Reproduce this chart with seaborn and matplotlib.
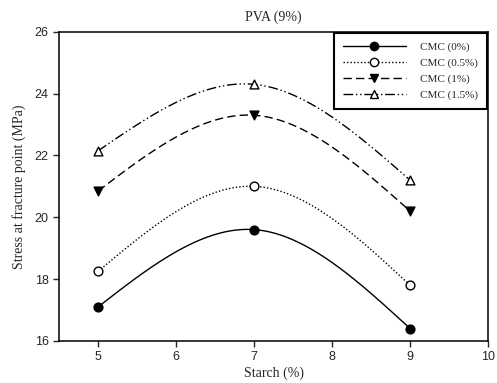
import numpy as np
import pandas as pd
import seaborn as sns
import matplotlib
matplotlib.use("Agg")
import matplotlib.pyplot as plt
from matplotlib.lines import Line2D

sns.set_style("ticks")

starch = [5, 7, 9]
cmc_0 = [17.1, 19.6, 16.4]
cmc_05 = [18.25, 21.0, 17.8]
cmc_1 = [20.85, 23.3, 20.2]
cmc_15 = [22.15, 24.3, 21.2]
labels = ["CMC (0%)", "CMC (0.5%)", "CMC (1%)", "CMC (1.5%)"]


def natural_spline(x, y, n=200):
    # natural cubic spline through the points (curve rendering only)
    x = np.asarray(x, float)
    y = np.asarray(y, float)
    k = len(x)
    h = np.diff(x)
    A = np.zeros((k, k))
    b = np.zeros(k)
    A[0, 0] = A[-1, -1] = 1
    for i in range(1, k - 1):
        A[i, i - 1] = h[i - 1]
        A[i, i] = 2 * (h[i - 1] + h[i])
        A[i, i + 1] = h[i]
        b[i] = 6 * ((y[i + 1] - y[i]) / h[i] - (y[i] - y[i - 1]) / h[i - 1])
    M = np.linalg.solve(A, b)
    xs = np.linspace(x[0], x[-1], n)
    idx = np.clip(np.searchsorted(x, xs) - 1, 0, k - 2)
    x0, x1 = x[idx], x[idx + 1]
    hh = x1 - x0
    ys = (M[idx] * (x1 - xs) ** 3 / (6 * hh) + M[idx + 1] * (xs - x0) ** 3 / (6 * hh)
          + (y[idx] / hh - M[idx] * hh / 6) * (x1 - xs)
          + (y[idx + 1] / hh - M[idx + 1] * hh / 6) * (xs - x0))
    return xs, ys


series = [cmc_0, cmc_05, cmc_1, cmc_15]
dashes = ["-", (0, (1, 1.5)), (0, (6, 3)), (0, (7, 2, 1, 2, 1, 2))]
markers = ["o", "o", "v", "^"]
faces = ["black", "white", "black", "white"]

fig, ax = plt.subplots(figsize=(4.97, 3.83), dpi=100)
fig.subplots_adjust(left=0.119, right=0.982, top=0.917, bottom=0.11)

for vals, lab, ls, mk, fc in zip(series, labels, dashes, markers, faces):
    xs, ys = natural_spline(starch, vals)
    curve = pd.DataFrame({"x": xs, "y": ys})
    sns.lineplot(data=curve, x="x", y="y", ax=ax, color="black", lw=1.0,
                 linestyle=ls, legend=False)
    pts = pd.DataFrame({"x": starch, "y": vals})
    sns.scatterplot(data=pts, x="x", y="y", ax=ax, marker=mk, s=40,
                    facecolor=fc, edgecolor="black", linewidth=1.0, zorder=3,
                    legend=False)

# legend handles with markers
handles = [Line2D([], [], color="black", lw=1.0, linestyle=ls, marker=mk,
                  markerfacecolor=fc, markeredgecolor="black", markersize=6)
           for ls, mk, fc in zip(dashes, markers, faces)]
leg = ax.legend(handles, labels, loc="upper right", frameon=True, fancybox=False,
                handlelength=5.6, prop={"family": "Liberation Serif", "size": 8},
                borderpad=0.8, labelspacing=0.55, handletextpad=1.3,
                borderaxespad=0.1)
leg.get_frame().set_edgecolor("black")
leg.get_frame().set_linewidth(1.5)
leg.get_frame().set_alpha(1)

ax.set_xlim(4.5, 10)
ax.set_ylim(16, 26)
ax.set_xticks([5, 6, 7, 8, 9, 10])
ax.set_yticks([16, 18, 20, 22, 24, 26])
ax.tick_params(direction="out", length=4, width=1, labelsize=9, top=False, right=False,
               labelfontfamily="Liberation Sans")
for sp in ax.spines.values():
    sp.set_visible(True)
    sp.set_linewidth(1.1)
    sp.set_color("black")

ax.set_title("PVA (9%)", fontfamily="Liberation Serif", fontsize=10, pad=8)
ax.set_xlabel("Starch (%)", fontfamily="Liberation Serif", fontsize=10, labelpad=2)
ax.set_ylabel("Stress at fracture point (MPa)", fontfamily="Liberation Serif", fontsize=10, labelpad=6)

fig.savefig("out.png", dpi=100)
